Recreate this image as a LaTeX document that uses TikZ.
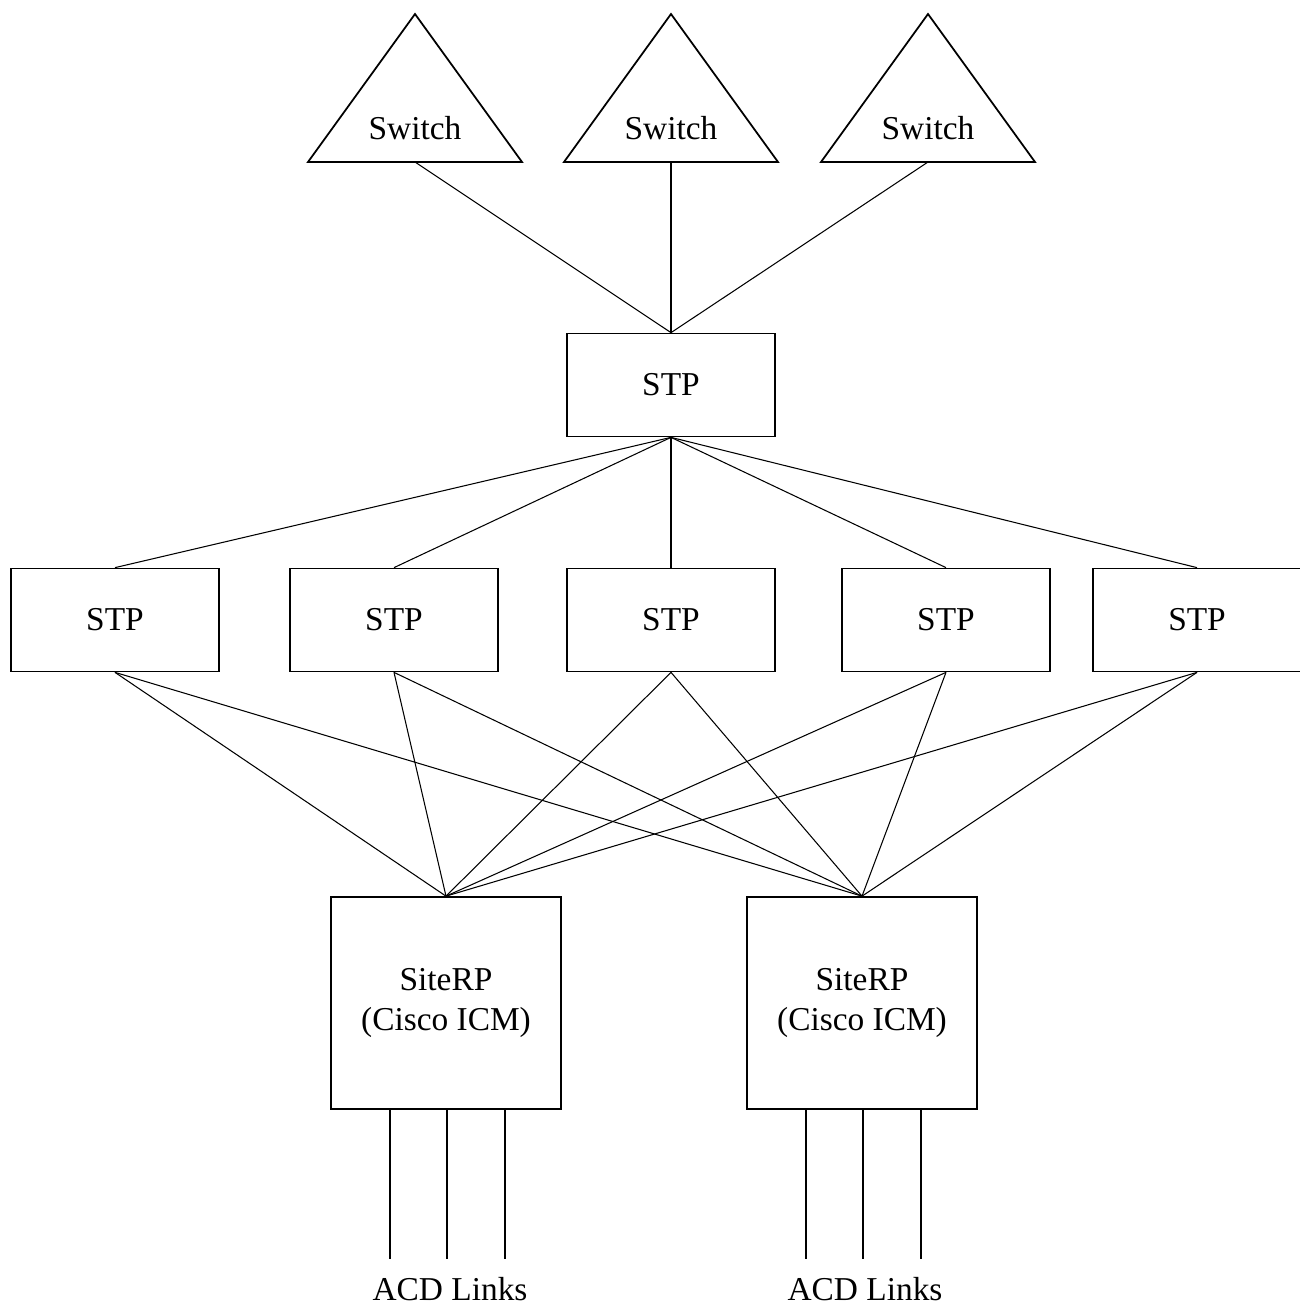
\documentclass[tikz,border=0pt]{standalone}
\usepackage{fontspec}
\setmainfont{Liberation Serif}
\newcommand{\lblfont}{\fontsize{19}{23}\selectfont}

\begin{document}
\begin{tikzpicture}[x=0.02cm,y=-0.02cm,
    box/.style={draw,line width=1pt,minimum width=4.16cm,minimum height=2.06cm,font=\lblfont},
    rpbox/.style={draw,line width=1pt,minimum width=4.6cm,minimum height=4.24cm,align=center,font=\lblfont},
    lbl/.style={font=\lblfont,inner sep=0pt},
    lnk/.style={line width=0.6pt}]
  \useasboundingbox (0,0) rectangle (1300,1305);
  % switches (triangles)
  \foreach \n/\x in {1/415,2/671,3/928} {
    \draw[line width=1pt] (\x-107,162) -- (\x,14) -- (\x+107,162) -- cycle;
    \node[lbl] (sw\n) at (\x,128) {Switch};
    \coordinate (sw\n b) at (\x,162);
  }
  % STP layers
  \node[box] (hub) at (671,385) {STP};
  \foreach \n/\x in {1/115,2/394,3/671,4/946,5/1197}
    \node[box] (stp\n) at (\x,620) {STP};
  % site routing peripherals
  \node[rpbox] (rp1) at (446,1003) {SiteRP\\(Cisco ICM)};
  \node[rpbox] (rp2) at (862,1003) {SiteRP\\(Cisco ICM)};
  % links
  \foreach \n in {1,2,3}
    \draw[lnk] (sw\n b) -- (hub.north);
  \foreach \n in {1,...,5} {
    \draw[lnk] (hub.south) -- (stp\n.north);
    \draw[lnk] (stp\n.south) -- (rp1.north);
    \draw[lnk] (stp\n.south) -- (rp2.north);
  }
  % ACD links
  \foreach \r in {rp1,rp2} {
    \foreach \dx in {-1.12,0.02,1.18}
      \draw[lnk] ([xshift=\dx cm]\r.south) -- ++(0,149);
  }
  \node[lbl,anchor=base] (acd1) at (450,1300) {ACD Links};
  \node[lbl,anchor=base] (acd2) at (865,1300) {ACD Links};
\end{tikzpicture}
\end{document}
